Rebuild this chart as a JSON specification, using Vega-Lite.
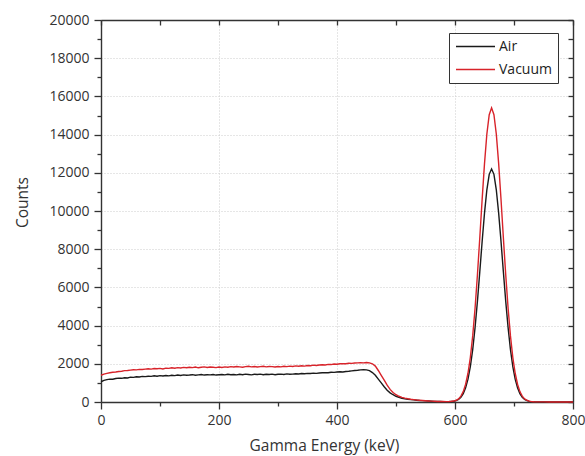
{
  "$schema": "https://vega.github.io/schema/vega-lite/v6.json",
  "width": 472,
  "height": 382,
  "autosize": "none",
  "padding": {"left": 101, "top": 20, "right": 12, "bottom": 54},
  "background": "white",
  "config": {
    "view": {"stroke": null},
    "font": "Open Sans",
    "axis": {
      "domainColor": "#333333",
      "domainWidth": 1.4,
      "tickColor": "#333333",
      "tickWidth": 1.3,
      "labelFont": "Open Sans",
      "labelFontSize": 14,
      "labelColor": "#333333",
      "titleFont": "Open Sans",
      "titleFontSize": 15.5,
      "titleFontWeight": "normal",
      "titleColor": "#333333",
      "gridColor": "#cccccc",
      "gridDash": [1, 2],
      "gridWidth": 1
    },
    "legend": {"labelFont": "Open Sans"}
  },
  "datasets": {
    "spec": [
      {"E": 0, "Air": 1060, "Vacuum": 1400},
      {"E": 5, "Air": 1130, "Vacuum": 1460},
      {"E": 10, "Air": 1170, "Vacuum": 1500},
      {"E": 15, "Air": 1200, "Vacuum": 1530},
      {"E": 20, "Air": 1190, "Vacuum": 1560},
      {"E": 25, "Air": 1230, "Vacuum": 1570},
      {"E": 30, "Air": 1250, "Vacuum": 1600},
      {"E": 35, "Air": 1240, "Vacuum": 1610},
      {"E": 40, "Air": 1270, "Vacuum": 1640},
      {"E": 45, "Air": 1260, "Vacuum": 1650},
      {"E": 50, "Air": 1300, "Vacuum": 1670},
      {"E": 55, "Air": 1290, "Vacuum": 1690},
      {"E": 60, "Air": 1320, "Vacuum": 1680},
      {"E": 65, "Air": 1310, "Vacuum": 1710},
      {"E": 70, "Air": 1340, "Vacuum": 1700},
      {"E": 75, "Air": 1330, "Vacuum": 1720},
      {"E": 80, "Air": 1350, "Vacuum": 1740},
      {"E": 85, "Air": 1340, "Vacuum": 1720},
      {"E": 90, "Air": 1370, "Vacuum": 1750},
      {"E": 95, "Air": 1350, "Vacuum": 1740},
      {"E": 100, "Air": 1380, "Vacuum": 1760},
      {"E": 105, "Air": 1360, "Vacuum": 1730},
      {"E": 110, "Air": 1390, "Vacuum": 1770},
      {"E": 115, "Air": 1370, "Vacuum": 1760},
      {"E": 120, "Air": 1400, "Vacuum": 1790},
      {"E": 125, "Air": 1380, "Vacuum": 1770},
      {"E": 130, "Air": 1410, "Vacuum": 1800},
      {"E": 135, "Air": 1390, "Vacuum": 1780},
      {"E": 140, "Air": 1420, "Vacuum": 1810},
      {"E": 145, "Air": 1400, "Vacuum": 1790},
      {"E": 150, "Air": 1410, "Vacuum": 1820},
      {"E": 155, "Air": 1430, "Vacuum": 1800},
      {"E": 160, "Air": 1400, "Vacuum": 1830},
      {"E": 165, "Air": 1420, "Vacuum": 1790},
      {"E": 170, "Air": 1440, "Vacuum": 1820},
      {"E": 175, "Air": 1410, "Vacuum": 1840},
      {"E": 180, "Air": 1430, "Vacuum": 1810},
      {"E": 185, "Air": 1420, "Vacuum": 1830},
      {"E": 190, "Air": 1440, "Vacuum": 1820},
      {"E": 195, "Air": 1410, "Vacuum": 1800},
      {"E": 200, "Air": 1430, "Vacuum": 1830},
      {"E": 205, "Air": 1440, "Vacuum": 1810},
      {"E": 210, "Air": 1420, "Vacuum": 1840},
      {"E": 215, "Air": 1450, "Vacuum": 1820},
      {"E": 220, "Air": 1430, "Vacuum": 1850},
      {"E": 225, "Air": 1440, "Vacuum": 1830},
      {"E": 230, "Air": 1420, "Vacuum": 1860},
      {"E": 235, "Air": 1450, "Vacuum": 1840},
      {"E": 240, "Air": 1430, "Vacuum": 1820},
      {"E": 245, "Air": 1460, "Vacuum": 1850},
      {"E": 250, "Air": 1440, "Vacuum": 1870},
      {"E": 255, "Air": 1420, "Vacuum": 1840},
      {"E": 260, "Air": 1450, "Vacuum": 1860},
      {"E": 265, "Air": 1440, "Vacuum": 1830},
      {"E": 270, "Air": 1460, "Vacuum": 1850},
      {"E": 275, "Air": 1430, "Vacuum": 1870},
      {"E": 280, "Air": 1450, "Vacuum": 1840},
      {"E": 285, "Air": 1440, "Vacuum": 1860},
      {"E": 290, "Air": 1460, "Vacuum": 1850},
      {"E": 295, "Air": 1430, "Vacuum": 1830},
      {"E": 300, "Air": 1450, "Vacuum": 1860},
      {"E": 305, "Air": 1460, "Vacuum": 1840},
      {"E": 310, "Air": 1440, "Vacuum": 1870},
      {"E": 315, "Air": 1470, "Vacuum": 1850},
      {"E": 320, "Air": 1450, "Vacuum": 1880},
      {"E": 325, "Air": 1460, "Vacuum": 1860},
      {"E": 330, "Air": 1480, "Vacuum": 1890},
      {"E": 335, "Air": 1470, "Vacuum": 1870},
      {"E": 340, "Air": 1490, "Vacuum": 1900},
      {"E": 345, "Air": 1480, "Vacuum": 1880},
      {"E": 350, "Air": 1500, "Vacuum": 1910},
      {"E": 355, "Air": 1490, "Vacuum": 1900},
      {"E": 360, "Air": 1510, "Vacuum": 1930},
      {"E": 365, "Air": 1500, "Vacuum": 1910},
      {"E": 370, "Air": 1520, "Vacuum": 1940},
      {"E": 375, "Air": 1530, "Vacuum": 1950},
      {"E": 380, "Air": 1540, "Vacuum": 1940},
      {"E": 385, "Air": 1530, "Vacuum": 1970},
      {"E": 390, "Air": 1560, "Vacuum": 1960},
      {"E": 395, "Air": 1550, "Vacuum": 1990},
      {"E": 400, "Air": 1570, "Vacuum": 1980},
      {"E": 405, "Air": 1580, "Vacuum": 2000},
      {"E": 410, "Air": 1570, "Vacuum": 2010},
      {"E": 415, "Air": 1600, "Vacuum": 2000},
      {"E": 420, "Air": 1610, "Vacuum": 2030},
      {"E": 425, "Air": 1630, "Vacuum": 2020},
      {"E": 430, "Air": 1650, "Vacuum": 2040},
      {"E": 435, "Air": 1660, "Vacuum": 2050},
      {"E": 440, "Air": 1680, "Vacuum": 2060},
      {"E": 445, "Air": 1690, "Vacuum": 2050},
      {"E": 450, "Air": 1680, "Vacuum": 2070},
      {"E": 455, "Air": 1640, "Vacuum": 2050},
      {"E": 460, "Air": 1540, "Vacuum": 2000},
      {"E": 465, "Air": 1400, "Vacuum": 1880},
      {"E": 470, "Air": 1200, "Vacuum": 1650},
      {"E": 475, "Air": 1000, "Vacuum": 1400},
      {"E": 480, "Air": 800, "Vacuum": 1150},
      {"E": 485, "Air": 620, "Vacuum": 880},
      {"E": 490, "Air": 480, "Vacuum": 660},
      {"E": 495, "Air": 380, "Vacuum": 500},
      {"E": 500, "Air": 300, "Vacuum": 380},
      {"E": 505, "Air": 240, "Vacuum": 300},
      {"E": 510, "Air": 195, "Vacuum": 240},
      {"E": 515, "Air": 165, "Vacuum": 200},
      {"E": 520, "Air": 145, "Vacuum": 170},
      {"E": 525, "Air": 125, "Vacuum": 145},
      {"E": 530, "Air": 110, "Vacuum": 125},
      {"E": 535, "Air": 95, "Vacuum": 105},
      {"E": 540, "Air": 80, "Vacuum": 90},
      {"E": 545, "Air": 70, "Vacuum": 75},
      {"E": 550, "Air": 60, "Vacuum": 62},
      {"E": 555, "Air": 50, "Vacuum": 52},
      {"E": 560, "Air": 42, "Vacuum": 44},
      {"E": 565, "Air": 35, "Vacuum": 36},
      {"E": 570, "Air": 30, "Vacuum": 30},
      {"E": 575, "Air": 25, "Vacuum": 26},
      {"E": 580, "Air": 22, "Vacuum": 23},
      {"E": 585, "Air": 20, "Vacuum": 21},
      {"E": 590, "Air": 22, "Vacuum": 25},
      {"E": 594, "Air": 30, "Vacuum": 36},
      {"E": 598, "Air": 40, "Vacuum": 50},
      {"E": 602, "Air": 70, "Vacuum": 90},
      {"E": 606, "Air": 130, "Vacuum": 165},
      {"E": 610, "Air": 240, "Vacuum": 305},
      {"E": 614, "Air": 435, "Vacuum": 545},
      {"E": 618, "Air": 740, "Vacuum": 930},
      {"E": 622, "Air": 1195, "Vacuum": 1505},
      {"E": 626, "Air": 1850, "Vacuum": 2330},
      {"E": 630, "Air": 2745, "Vacuum": 3460},
      {"E": 634, "Air": 3895, "Vacuum": 4905},
      {"E": 638, "Air": 5270, "Vacuum": 6650},
      {"E": 642, "Air": 6810, "Vacuum": 8590},
      {"E": 646, "Air": 8400, "Vacuum": 10600},
      {"E": 650, "Air": 9890, "Vacuum": 12480},
      {"E": 654, "Air": 11110, "Vacuum": 14030},
      {"E": 658, "Air": 11920, "Vacuum": 15040},
      {"E": 662, "Air": 12200, "Vacuum": 15400},
      {"E": 666, "Air": 11920, "Vacuum": 15040},
      {"E": 670, "Air": 11110, "Vacuum": 14030},
      {"E": 674, "Air": 9890, "Vacuum": 12480},
      {"E": 678, "Air": 8400, "Vacuum": 10600},
      {"E": 682, "Air": 6810, "Vacuum": 8590},
      {"E": 686, "Air": 5270, "Vacuum": 6650},
      {"E": 690, "Air": 3895, "Vacuum": 4905},
      {"E": 694, "Air": 2745, "Vacuum": 3460},
      {"E": 698, "Air": 1850, "Vacuum": 2330},
      {"E": 702, "Air": 1195, "Vacuum": 1505},
      {"E": 706, "Air": 740, "Vacuum": 930},
      {"E": 710, "Air": 435, "Vacuum": 545},
      {"E": 714, "Air": 240, "Vacuum": 305},
      {"E": 718, "Air": 130, "Vacuum": 165},
      {"E": 722, "Air": 70, "Vacuum": 90},
      {"E": 726, "Air": 35, "Vacuum": 45},
      {"E": 730, "Air": 18, "Vacuum": 22},
      {"E": 734, "Air": 10, "Vacuum": 12},
      {"E": 740, "Air": 5, "Vacuum": 6},
      {"E": 750, "Air": 3, "Vacuum": 4},
      {"E": 760, "Air": 2, "Vacuum": 3},
      {"E": 780, "Air": 2, "Vacuum": 2},
      {"E": 800, "Air": 2, "Vacuum": 2}
    ]
  },
  "data": {"name": "spec"},
  "transform": [{"fold": ["Air", "Vacuum"], "as": ["series", "counts"]}],
  "layer": [
    {
      "mark": {"type": "line", "strokeWidth": 1.4},
      "encoding": {
        "x": {
          "field": "E", "type": "quantitative",
          "scale": {"domain": [0, 800], "nice": false},
          "axis": {
            "orient": "bottom",
            "values": [0, 200, 400, 600, 800],
            "title": "Gamma Energy (keV)",
            "grid": true,
            "tickSize": 7,
            "labelPadding": 4,
            "titleX": 223,
            "titleY": 48,
            "titleBaseline": "alphabetic",
            "titleAlign": "center",
            "labelFlush": false
          }
        },
        "y": {
          "field": "counts", "type": "quantitative",
          "scale": {"domain": [0, 20000], "nice": false},
          "axis": {
            "orient": "left",
            "values": [0, 2000, 4000, 6000, 8000, 10000, 12000, 14000, 16000, 18000, 20000],
            "format": "d",
            "title": "Counts",
            "grid": true,
            "tickSize": 7,
            "labelPadding": 5,
            "titleAngle": -90,
            "titleX": -79,
            "titleY": 182,
            "titleBaseline": "middle",
            "titleAlign": "center",
            "labelFlush": false
          }
        },
        "color": {
          "field": "series", "type": "nominal",
          "scale": {"domain": ["Air", "Vacuum"], "range": ["#1a1a1a", "#d8232a"]},
          "legend": {
            "orient": "none",
            "legendX": 348,
            "legendY": 13,
            "title": null,
            "strokeColor": "#333333",
            "fillColor": "white",
            "padding": 6,
            "labelFontSize": 14,
            "labelColor": "#222222",
            "symbolType": "M-1,0H5",
            "symbolSize": 169,
            "symbolStrokeWidth": 1.5,
            "rowPadding": 8,
            "labelOffset": 29
          }
        }
      }
    },
    {
      "mark": {"type": "line", "opacity": 0},
      "encoding": {
        "x": {
          "field": "E", "type": "quantitative",
          "axis": {"orient": "bottom", "values": [100, 300, 500, 700], "labels": false, "domain": false, "grid": false, "title": null, "tickSize": 4}
        },
        "y": {
          "field": "counts", "type": "quantitative",
          "axis": {"orient": "left", "values": [1000, 3000, 5000, 7000, 9000, 11000, 13000, 15000, 17000, 19000], "labels": false, "domain": false, "grid": false, "title": null, "tickSize": 4}
        },
        "detail": {"field": "series"}
      }
    },
    {
      "mark": {"type": "line", "opacity": 0},
      "encoding": {
        "x": {
          "field": "E", "type": "quantitative",
          "axis": {"orient": "top", "values": [0, 100, 200, 300, 400, 500, 600, 700, 800], "labels": false, "grid": false, "title": null, "tickSize": -5}
        },
        "y": {
          "field": "counts", "type": "quantitative",
          "axis": {"orient": "right", "values": [0, 1000, 2000, 3000, 4000, 5000, 6000, 7000, 8000, 9000, 10000, 11000, 12000, 13000, 14000, 15000, 16000, 17000, 18000, 19000, 20000], "labels": false, "grid": false, "title": null, "tickSize": -5}
        },
        "detail": {"field": "series"}
      }
    }
  ],
  "resolve": {"axis": {"x": "independent", "y": "independent"}}
}
